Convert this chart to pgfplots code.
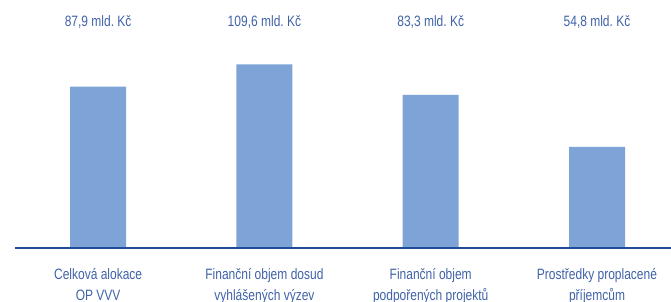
\documentclass[border=0pt]{standalone}
\usepackage{fontspec}
\setmainfont{Liberation Sans}[FakeStretch=0.8]
\usepackage{pgfplots}
\pgfplotsset{compat=1.18}
\definecolor{barblue}{HTML}{7EA3D6}
\definecolor{txtblue}{HTML}{3F62A8}
\definecolor{lineblue}{HTML}{1F4B9B}
\tikzset{lab/.style={text=txtblue, anchor=base, inner sep=0pt, font=\fontsize{15bp}{18bp}\selectfont}}
\frenchspacing
\begin{document}
\begin{tikzpicture}
\path[use as bounding box] (0,0) rectangle (671bp,302bp);
\clip (0,0) rectangle (671bp,302bp);
\begin{axis}[
  at={(15bp,55bp)}, anchor=south west,
  scale only axis, width=656bp, height=247bp,
  xmin=-0.5, xmax=3.445, ymin=0, ymax=135.3,
  axis lines=none, ticks=none, clip=false,
]
\addplot[ybar, bar width=56bp, fill=barblue, draw=none] coordinates {(0,87.9) (1,100.0) (2,83.3) (3,54.8)};
\draw[lineblue, line width=2.8bp] (axis cs:-0.5,-0.6) -- (axis cs:3.445,-0.6);
\node[lab] at (axis cs:0,121) {87,9 mld. Kč};
\node[lab] at (axis cs:1,121) {109,6 mld. Kč};
\node[lab] at (axis cs:2,121) {83,3 mld. Kč};
\node[lab] at (axis cs:3,121) {54,8 mld. Kč};
\node[lab] at (axis cs:0,-17.7) {Celková alokace};
\node[lab] at (axis cs:0,-29.2) {OP VVV};
\node[lab] at (axis cs:1,-17.7) {Finanční objem dosud};
\node[lab] at (axis cs:1,-29.2) {vyhlášených výzev};
\node[lab] at (axis cs:2,-17.7) {Finanční objem};
\node[lab] at (axis cs:2,-29.2) {podpořených projektů};
\node[lab] at (axis cs:3,-17.7) {Prostředky proplacené};
\node[lab] at (axis cs:3,-29.2) {příjemcům};
\end{axis}
\end{tikzpicture}
\end{document}
